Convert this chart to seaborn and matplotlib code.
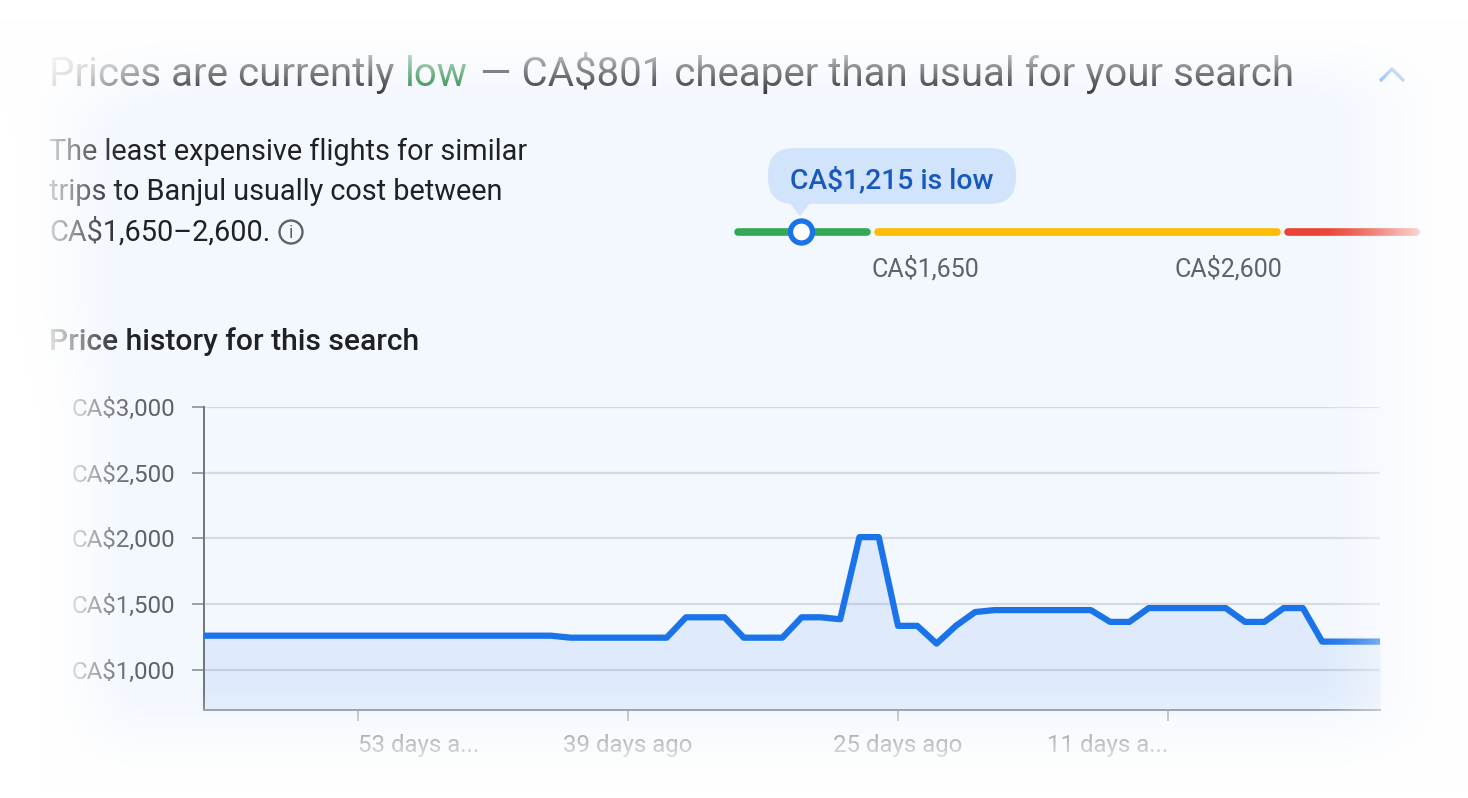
import numpy as np
import matplotlib
matplotlib.use("Agg")
import matplotlib.pyplot as plt
import seaborn as sns
from matplotlib.patches import FancyBboxPatch, Polygon, Circle

# datos
days_ago = [61, 60, 59, 58, 57, 56, 55, 54, 53, 52, 51, 50, 49, 48, 47, 46,
            45, 44, 43, 42, 41, 40, 39, 38, 37, 36, 35, 34, 33, 32, 31, 30,
            29, 28, 27, 26, 25, 24, 23, 22, 21, 20, 19, 18, 17, 16, 15, 14,
            13, 12, 11, 10, 9, 8, 7, 6, 5, 4, 3, 2, 1, 0]
prices = [1260, 1260, 1260, 1260, 1260, 1260, 1260, 1260, 1260, 1260, 1260, 1260,
          1260, 1260, 1260, 1260, 1260, 1260, 1260, 1245, 1245, 1245, 1245, 1245,
          1245, 1400, 1400, 1400, 1245, 1245, 1245, 1400, 1400, 1385, 2010, 2010,
          1335, 1335, 1200, 1335, 1440, 1455, 1455, 1455, 1455, 1455, 1455, 1365,
          1365, 1470, 1470, 1470, 1470, 1470, 1365, 1365, 1470, 1470, 1215, 1215,
          1215, 1215]
y_ticks = [1000, 1500, 2000, 2500, 3000]
y_labels = ["CA$1,000", "CA$1,500", "CA$2,000", "CA$2,500", "CA$3,000"]
x_ticks = [53, 39, 25, 11]
x_labels = ["53 days a...", "39 days ago", "25 days ago", "11 days a..."]
x_align = ["left", "center", "center", "right"]

W, H = 1468, 798
BLUE = "#1a73e8"
GREY = "#5f6368"
INK = "#202124"

sns.set_theme(style="white")
plt.rcParams['font.family'] = ['Roboto', 'DejaVu Sans']


def smooth(v, a, b):
    t = np.clip((v - a) / (b - a), 0, 1)
    return t * t * (3 - 2 * t)


fig = plt.figure(figsize=(W / 100, H / 100), dpi=100, facecolor="#f3f7fe")

# capa con los textos y la barra de rango
back = fig.add_axes([0, 0, 1, 1], zorder=0)
back.set_xlim(0, W)
back.set_ylim(H, 0)
back.axis("off")

# titulo
back.text(49, 86, "Prices are currently", fontsize=29, va="baseline", color=INK)
back.text(405, 86, "low", fontsize=29, va="baseline", color="#188038")
back.text(480, 86, "— CA$801 cheaper than usual for your search", fontsize=29, va="baseline", color=INK)
back.plot([1380, 1392, 1404], [81, 69, 81], color=BLUE, lw=2.4, solid_capstyle="butt")

# texto
back.text(49, 160, "The least expensive flights for similar", fontsize=20.8, va="baseline", color=INK)
back.text(49, 200, "trips to Banjul usually cost between", fontsize=20.8, va="baseline", color=INK)
back.text(49, 241, "CA$1,650–2,600.", fontsize=20.8, va="baseline", color=INK)
back.add_patch(Circle((291, 232), 11.5, fc="none", ec=GREY, lw=1.7))
back.text(291, 232.5, "i", fontsize=13, ha="center", va="center", color=GREY)
back.text(49, 350, "Price history for this search", fontsize=21.6, va="baseline",
          color=INK, fontweight="medium")

# barra de rango
back.plot([738, 867], [232, 232], color="#34a853", lw=5.5, solid_capstyle="round")
back.plot([878, 1277], [232, 232], color="#fbbc04", lw=5.5, solid_capstyle="round")
back.plot([1288, 1416], [232, 232], color="#ea4335", lw=5.5, solid_capstyle="round")
back.add_patch(Polygon([[790, 203], [810, 203], [800, 216]], fc="#d2e3fc", ec="none", zorder=3))
back.add_patch(FancyBboxPatch((768, 148), 248, 56, boxstyle="round,pad=0,rounding_size=26",
                              fc="#d2e3fc", ec="none", zorder=3))
back.text(892, 188, "CA$1,215 is low", fontsize=20.3, ha="center", va="baseline",
          color="#185abc", fontweight="medium", zorder=4)
back.add_patch(Circle((801.5, 232), 11, fc="white", ec=BLUE, lw=3.8, zorder=4))
back.text(925, 276, "CA$1,650", fontsize=18, ha="center", va="baseline", color=GREY)
back.text(1228, 276, "CA$2,600", fontsize=18, ha="center", va="baseline", color=GREY)

# historial de precios
ax = fig.add_axes([204 / W, 1 - 709.5 / H, 1176 / W, 302.5 / H], zorder=1)
ax.patch.set_alpha(0)
ax.fill_between(days_ago, prices, 698.5, color=BLUE, alpha=0.09, lw=0)
sns.lineplot(x=days_ago, y=prices, ax=ax, color=BLUE, linewidth=4.5, errorbar=None, zorder=3)
ax.set_xlim(61, 0)
ax.set_ylim(698.5, 3000)
ax.set_xlabel("")
ax.set_ylabel("")
ax.set_yticks(y_ticks)
ax.set_yticklabels(y_labels, fontsize=17.4, color=GREY)
ax.set_xticks(x_ticks)
ax.set_xticklabels(x_labels, fontsize=17.3, color=GREY)
for lab, ha in zip(ax.get_xticklabels(), x_align):
    lab.set_ha(ha)
ax.grid(axis="y", color="#d8dae0", lw=1.6)
ax.set_axisbelow(True)
ax.tick_params(axis="y", length=8.6, width=1.4, color="#9aa0a6", pad=12, left=True)
ax.tick_params(axis="x", length=8, width=1.2, color="#a8abb0", pad=9.5, bottom=True)
sns.despine(ax=ax, top=True, right=True)
ax.spines["left"].set_color("#70757a")
ax.spines["left"].set_linewidth(1.4)
ax.spines["bottom"].set_color("#8a8e96")
ax.spines["bottom"].set_linewidth(1.4)

# velo blanco encima de todo, es lo que difumina los bordes
px, py = np.meshgrid(np.arange(W) + 0.5, np.arange(H) + 0.5)
left_a = np.interp(py, [100, 135, 300, 420], [0, 15, 15, 40])
left_b = np.interp(py, [70, 130, 300, 420], [225, 135, 135, 145])
keep = smooth(px, left_a, left_b)
keep = keep * smooth(py, 20, 115)
keep = keep * (1 - smooth(px, 1310, 1470))
keep = keep * (1 - smooth(py, 680, 790))
veil = np.ones((H, W, 4))
veil[..., 3] = 1 - keep

top = fig.add_axes([0, 0, 1, 1], zorder=5)
top.axis("off")
top.imshow(veil, extent=(0, W, H, 0), aspect="auto")
top.set_xlim(0, W)
top.set_ylim(H, 0)

fig.savefig("out.png", dpi=100, facecolor=fig.get_facecolor())
